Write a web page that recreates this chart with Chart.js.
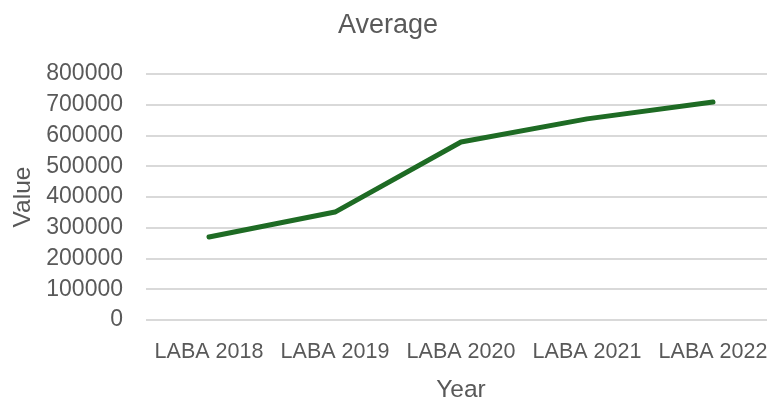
<!DOCTYPE html>
<html>
<head>
<meta charset="utf-8">
<script src="https://cdn.jsdelivr.net/npm/chart.js@4/dist/chart.umd.min.js"></script>
<style>
html,body{margin:0;padding:0;background:#fff;overflow:hidden;width:767px;height:403px;}
#wrap{position:relative;width:776px;height:403px;}
</style>
</head>
<body>
<div id="wrap"><canvas id="c"></canvas></div>
<script>
const categories = ["LABA 2018", "LABA 2019", "LABA 2020", "LABA 2021", "LABA 2022"];
const averageValues = [270000, 351000, 579000, 654000, 709000];
const yTicks = [0, 100000, 200000, 300000, 400000, 500000, 600000, 700000, 800000];

const FONT = "'Liberation Sans', Arial, sans-serif";
const GREY = "#595959";

new Chart(document.getElementById('c'), {
  type: 'line',
  data: {
    labels: categories,
    datasets: [{
      label: 'Average',
      data: averageValues,
      borderColor: '#1e6b24',
      borderWidth: 5,
      pointRadius: 0,
      borderCapStyle: 'round',
      borderJoinStyle: 'round',
      tension: 0,
      fill: false
    }]
  },
  options: {
    responsive: true,
    maintainAspectRatio: false,
    animation: false,
    layout: { padding: 0 },
    plugins: {
      legend: { display: false },
      tooltip: { enabled: false },
      title: {
        display: true,
        text: 'Average',
        color: GREY,
        font: { family: FONT, size: 27, weight: 'normal' },
        padding: { top: 9, bottom: 32.6 }
      }
    },
    scales: {
      x: {
        offset: true,
        grid: { display: false, drawTicks: true, tickLength: 19 },
        border: { display: false },
        ticks: { color: GREY, font: { family: FONT, size: 21.5 }, padding: 0, maxRotation: 0, autoSkip: false },
        title: { display: true, text: 'Year', color: GREY, font: { family: FONT, size: 24.5, lineHeight: 1.0 }, padding: { top: 0, bottom: 0.5 } },
        afterFit: (axis) => { axis.height = 83; }
      },
      y: {
        min: 0,
        max: 800000,
        afterBuildTicks: (axis) => { axis.ticks = yTicks.map(v => ({ value: v })); },
        grid: { color: '#d9d9d9', lineWidth: 2, drawTicks: false },
        border: { display: false },
        ticks: { color: GREY, font: { family: FONT, size: 23 }, padding: 23, callback: (v) => String(v) },
        title: { display: true, text: 'Value', color: GREY, font: { family: FONT, size: 24.5 }, padding: { top: 9, bottom: 0 } },
        afterFit: (axis) => { axis.width = 146; }
      }
    }
  }
});
</script>
</body>
</html>
